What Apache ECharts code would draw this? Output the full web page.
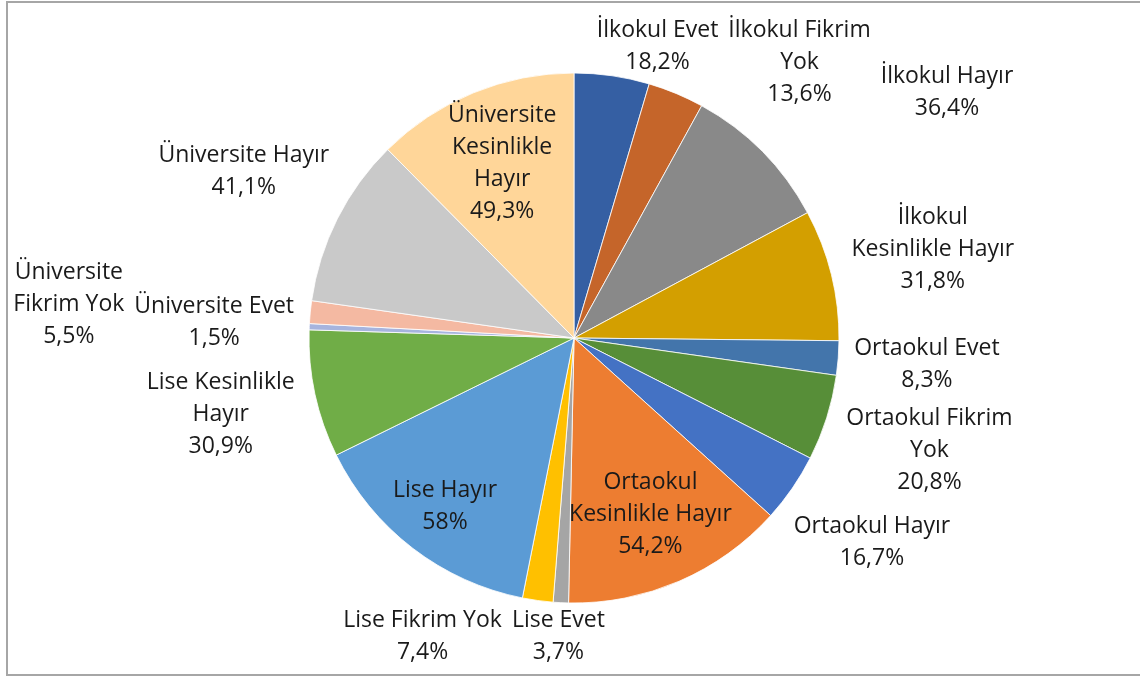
<!DOCTYPE html>
<html>
<head>
<meta charset="utf-8">
<script src="https://cdn.jsdelivr.net/npm/echarts@6/dist/echarts.min.js"></script>
<style>
html, body { margin: 0; padding: 0; background: #fff; }
#frame { position: absolute; left: 6px; top: 1px; width: 1200px; height: 671px; border: 2px solid #a6a6a6; }
#pie { position: absolute; left: 0; top: 0; width: 1140px; height: 677px; }
</style>
</head>
<body>
<div id="frame"></div>
<div id="pie"></div>
<script>
// dilimler saat yönünde, tepeden başlayarak
var categories = [
    'İlkokul Evet', 'İlkokul Fikrim Yok', 'İlkokul Hayır', 'İlkokul Kesinlikle Hayır',
    'Ortaokul Evet', 'Ortaokul Fikrim Yok', 'Ortaokul Hayır', 'Ortaokul Kesinlikle Hayır',
    'Lise Evet', 'Lise Fikrim Yok', 'Lise Hayır', 'Lise Kesinlikle Hayır',
    'Üniversite Evet', 'Üniversite Fikrim Yok', 'Üniversite Hayır', 'Üniversite Kesinlikle Hayır'
];
var values = [18.2, 13.6, 36.4, 31.8, 8.3, 20.8, 16.7, 54.2, 3.7, 7.4, 58, 30.9, 1.5, 5.5, 41.1, 49.3];
// etiketlerde satır kırılmaları
var labelText = [
    'İlkokul Evet', 'İlkokul Fikrim\nYok', 'İlkokul Hayır', 'İlkokul\nKesinlikle Hayır',
    'Ortaokul Evet', 'Ortaokul Fikrim\nYok', 'Ortaokul Hayır', 'Ortaokul\nKesinlikle Hayır',
    'Lise Evet', 'Lise Fikrim Yok', 'Lise Hayır', 'Lise Kesinlikle\nHayır',
    'Üniversite Evet', 'Üniversite\nFikrim Yok', 'Üniversite Hayır', 'Üniversite\nKesinlikle\nHayır'
];
var colors = [
    '#355fa3', '#c5652a', '#898989', '#d39f00',
    '#4375ab', '#578e38', '#4472c4', '#ed7d31',
    '#a5a5a5', '#ffc000', '#5b9bd5', '#70ad47',
    '#a6b4de', '#f4b9a2', '#c9c9c9', '#ffd699'
];

var CX = 574, CY = 338, R = 265; // pasta merkezi ve yarıçapı
var placed = [];

function overlaps(a, b) {
    return a.x < b.x + b.width && b.x < a.x + a.width && a.y < b.y + b.height && b.y < a.y + a.height;
}

// Excel'deki "en uygun" etiket yerleşimine benzer: büyük dilimler içeride, diğerleri dışarıda
function placeLabel(p) {
    if (p.dataIndex === 0) placed = [];
    var pt = p.labelLinePoints && p.labelLinePoints[0];
    if (!pt) return;
    var dx = pt[0] - CX, dy = pt[1] - CY, d = Math.sqrt(dx * dx + dy * dy);
    var ux = dx / d, uy = dy / d;
    var w = p.labelRect.width, h = p.labelRect.height;
    var push = Math.abs(ux) * w / 2 + Math.abs(uy) * h / 2;
    var inside = values[p.dataIndex] > 45;
    var dist = inside ? R - push + 4 : R + 14 + push;
    var x = CX + ux * dist, y = CY + uy * dist;
    if (!inside) {
        var side = ux < 0 ? -1 : 1;
        y = Math.min(Math.max(y, 14 + h / 2), 668 - h / 2);
        for (var k = 0; k < 3; k++) {
            // pastaya binmesin
            var nx = Math.min(Math.max(CX, x - w / 2), x + w / 2) - CX;
            var ny = Math.min(Math.max(CY, y - h / 2), y + h / 2) - CY;
            var lim = R - 4;
            if (nx * nx + ny * ny < lim * lim) {
                var need = Math.sqrt(lim * lim - ny * ny);
                x = side > 0 ? CX + need + w / 2 : CX - need - w / 2;
            }
            // önceki etiketlerle çakışmasın
            var rect = { x: x - w / 2, y: y - h / 2, width: w, height: h };
            placed.forEach(function (q) {
                if (overlaps(rect, q)) {
                    x = side > 0 ? q.x + q.width + 10 + w / 2 : q.x - 10 - w / 2;
                    rect.x = x - w / 2;
                }
            });
        }
        placed.push({ x: x - w / 2, y: y - h / 2, width: w, height: h });
    }
    return { x: x, y: y, align: 'center', verticalAlign: 'middle' };
}

var seriesData = categories.map(function (name, i) {
    return { name: name, value: values[i] };
});

var dom = document.getElementById('pie');
var myChart = echarts.init(dom);

var option = {
    animation: false,
    color: colors,
    textStyle: { fontFamily: 'Open Sans' },
    series: [
        {
            type: 'pie',
            center: [CX, CY],
            radius: R,
            startAngle: 90,
            clockwise: true,
            avoidLabelOverlap: false,
            itemStyle: {
                borderColor: 'rgba(255,255,255,0.8)',
                borderWidth: 1
            },
            label: {
                show: true,
                position: 'outside',
                overflow: 'none',
                fontFamily: 'Open Sans',
                fontSize: 23,
                lineHeight: 32,
                color: '#1a1a1a',
                formatter: function (p) {
                    return labelText[p.dataIndex] + '\n' + String(p.value).replace('.', ',') + '%';
                }
            },
            labelLine: {
                show: true,
                length: 10,
                length2: 0,
                lineStyle: { opacity: 0, width: 0 }
            },
            labelLayout: placeLabel,
            emphasis: { disabled: true },
            data: seriesData
        }
    ]
};
if (option && typeof option === 'object') {
    myChart.setOption(option, true);
}
</script>
</body>
</html>
